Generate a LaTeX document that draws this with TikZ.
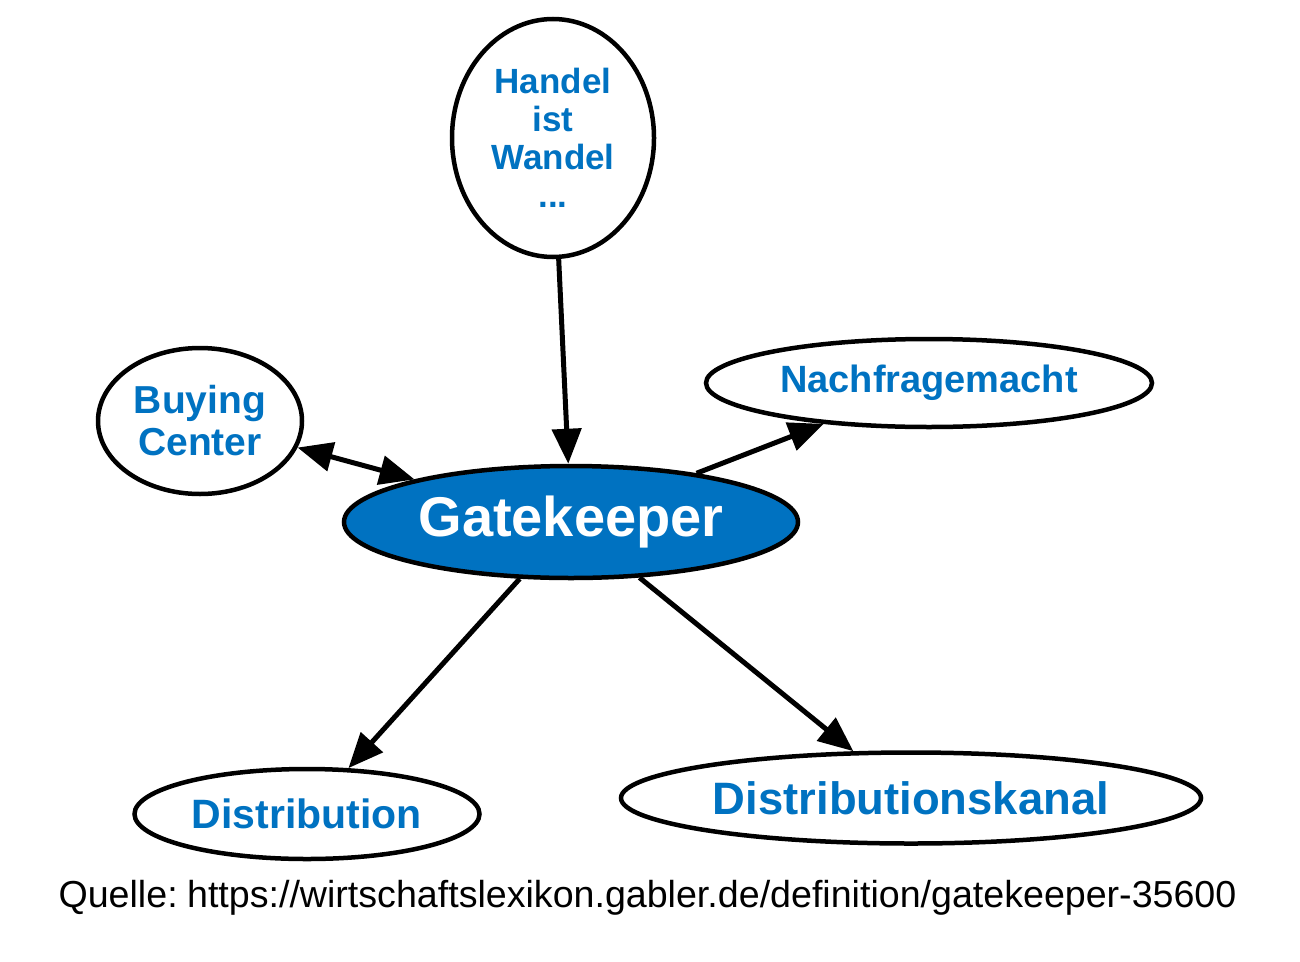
\documentclass[tikz,border=0pt]{standalone}
\usepackage{fontspec}
\setmainfont{Liberation Sans}
\usetikzlibrary{shapes.geometric,arrows.meta}
\definecolor{gblue}{RGB}{0,114,193}
\tikzset{
  ell/.style={ellipse, draw=black, line width=4.5pt, inner sep=0pt, fill=white,
    text=gblue, font=\bfseries, align=center},
  tipx/.tip={Triangle[length=35pt,width=29pt]},
  edge/.style={line width=5pt, -tipx},
  bothedge/.style={line width=5pt, tipx-tipx}
}
\begin{document}
\begin{tikzpicture}[x=1pt,y=-1pt]
\useasboundingbox (0,0) rectangle (1300,961);
\node[ell, minimum width=202pt, minimum height=238pt,
  font=\fontsize{35}{38}\selectfont\bfseries] (hw) at (553,138) {Handel\\ist\\Wandel\\...};
\node[ell, minimum width=204pt, minimum height=146pt,
  font=\fontsize{39}{42}\selectfont\bfseries] (bc) at (200,421) {Buying\\Center};
\node[ell, minimum width=446pt, minimum height=88pt,
  font=\fontsize{38}{42}\selectfont\bfseries] (nm) at (929,383) {Nachfragemacht};
\node[ell, minimum width=454pt, minimum height=112pt, fill=gblue, text=white,
  font=\fontsize{56}{60}\selectfont\bfseries] (gk) at (571,522) {Gatekeeper};
\node[ell, minimum width=345pt, minimum height=90pt,
  font=\fontsize{41}{44}\selectfont\bfseries] (di) at (307,814) {Distribution};
\node[ell, minimum width=580pt, minimum height=91pt,
  font=\fontsize{45.4}{48}\selectfont\bfseries] (dk) at (911,798) {Distributionskanal};
\draw[edge] (hw) -- (gk);
\draw[bothedge] (bc) -- (gk);
\draw[edge] (gk) -- (nm);
\draw[edge] (gk) -- (di);
\draw[edge] (gk) -- (dk);
\node[font=\fontsize{37.6}{40}\selectfont, inner sep=0pt] (src) at (647.5,898)
  {Quelle:\hspace{-0.12em} https://wirtschaftslexikon.gabler.de/definition/gatekeeper-35600};
\end{tikzpicture}
\end{document}
